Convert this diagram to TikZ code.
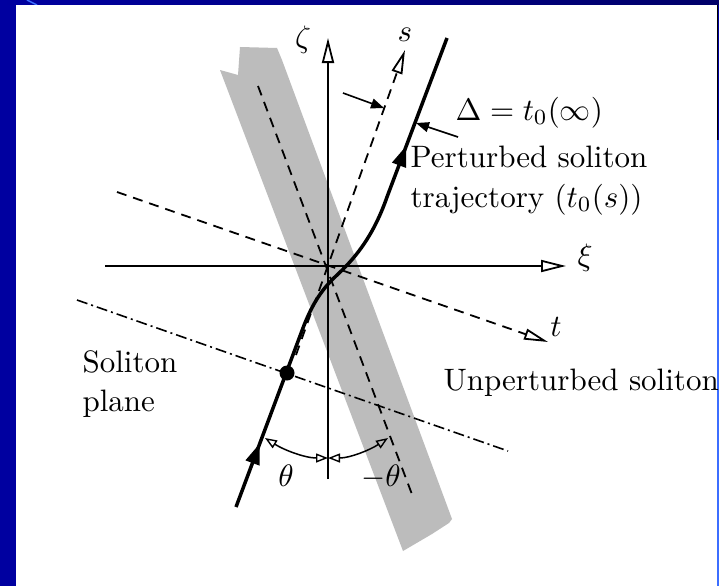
\documentclass[tikz,border=0pt]{standalone}
\usetikzlibrary{arrows.meta,decorations.markings}
\definecolor{bgblue}{RGB}{0,0,160}
\definecolor{bgnavy}{RGB}{0,0,105}
\definecolor{edgeblue}{RGB}{60,110,255}
\definecolor{bandgray}{RGB}{188,188,188}
\begin{document}
\begin{tikzpicture}[x=1pt,y=-1pt,
  lab/.style={font=\normalsize, scale=3.1, transform shape, inner sep=0pt},
  axisline/.style={line width=1.8pt, -{Triangle[open,length=25pt,width=12pt,line width=1.8pt]}},
  dashline/.style={line width=1.8pt, dash pattern=on 10pt off 7pt},
  dashtip/.style={-{Triangle[open,length=24pt,width=11pt,line width=1.8pt]}},
  dashdotline/.style={line width=1.6pt, dash pattern=on 11pt off 4pt on 2pt off 4pt},
  traj/.style={line width=3.5pt},
  angarc/.style={line width=1.5pt, {Triangle[open,length=12pt,width=9pt,line width=1.4pt]}-{Triangle[open,length=12pt,width=9pt,line width=1.4pt]}},
  deltaarrow/.style={line width=1.6pt, -{Triangle[length=13pt,width=10pt]}}
]
\useasboundingbox (0,0) rectangle (719,586);
% background frame
\fill[bgblue] (0,0) rectangle (719,586);
\shade[left color=bgblue, right color=bgnavy] (0,0) rectangle (719,5);
\draw[edgeblue, line width=1.5pt] (27,0) -- (37,5);
\fill[white] (16,5) rectangle (717,586);
\fill[black] (717,5) rectangle (718,140);
\fill[edgeblue] (717,140) rectangle (719,586);
% shaded band
\fill[bandgray] (220,70) -- (238,75) -- (240,47) -- (277,48) -- (282,60)
  -- (452,519) -- (449,523) -- (432,534) -- (403,551) -- cycle;
% coordinates
\coordinate (O) at (328,266);
\coordinate (zetaS) at (328,479); \coordinate (zetaE) at (328,38);
\coordinate (xiS) at (105,266);   \coordinate (xiE) at (566,266);
\coordinate (sS) at (296,355);    \coordinate (sE) at (405,50);
\coordinate (tS) at (117,192);    \coordinate (tE) at (548,342);
\coordinate (mS) at (258,86);     \coordinate (mE) at (413,497);
\coordinate (pS) at (77,300);     \coordinate (pE) at (508,451);
\coordinate (trA) at (236,507);   \coordinate (trB) at (303,328);
\coordinate (trC1) at (311,307);  \coordinate (trC2) at (320,291);
\coordinate (trM) at (336,276);
\coordinate (trC3) at (352,261);  \coordinate (trC4) at (372,240);
\coordinate (trD) at (387,197);   \coordinate (trE) at (447,38);
\coordinate (dot) at (287,373);
\coordinate (dA1) at (343,93);    \coordinate (dA2) at (384,108);
\coordinate (dB1) at (458,137);   \coordinate (dB2) at (416,123);
\coordinate (aL) at (265,438);    \coordinate (aM) at (328,458);
\coordinate (aR) at (388,438);
% axes
\draw[axisline] (xiS) -- (xiE);
\draw[axisline] (zetaS) -- (zetaE);
% dashed lines
\draw[dashline] (mS) -- (mE);
\draw[dashline, dashtip] (tS) -- (tE);
\draw[dashline, dashtip] (sS) -- (sE);
\draw[dashdotline] (pS) -- (pE);
% trajectory
\draw[traj, postaction={decorate, decoration={markings,
    mark=at position 68pt with {\arrow{Triangle[length=21pt,width=14pt]}},
    mark=at position -115pt with {\arrow{Triangle[length=21pt,width=14pt]}}}}]
  (trA) -- (trB) .. controls (trC1) and (trC2) .. (trM)
  .. controls (trC3) and (trC4) .. (trD) -- (trE);
\fill (dot) circle[radius=7.5pt];
% Delta arrows
\draw[deltaarrow] (dA1) -- (dA2);
\draw[deltaarrow] (dB1) -- (dB2);
% angle arcs
\draw[angarc] (aL) .. controls (284,450) and (305,458) .. (aM);
\draw[angarc] (aM) .. controls (350,458) and (370,450) .. (aR);
% labels
\node[lab] (lzeta) at (303,40) {$\zeta$};
\node[lab] (lxi) at (585,258) {$\xi$};
\node[lab] (ls) at (405,35) {$s$};
\node[lab] (lt) at (556,327) {$t$};
\node[lab] (lth) at (286,476) {$\theta$};
\node[lab] (lmth) at (381,477) {$-\theta$};
\node[lab, anchor=base west] (ldelta) at (455,120) {$\Delta = t_0(\infty)$};
\node[lab, anchor=base west] (lpert1) at (410,167) {Perturbed soliton};
\node[lab, anchor=base west] (lpert2) at (410,207) {trajectory ($t_0(s)$)};
\node[lab, anchor=base west] (lsol1) at (82,372) {Soliton};
\node[lab, anchor=base west] (lsol2) at (82,411) {plane};
\node[lab, anchor=base west] (lunp) at (443,390) {Unperturbed soliton};
\end{tikzpicture}
\end{document}
